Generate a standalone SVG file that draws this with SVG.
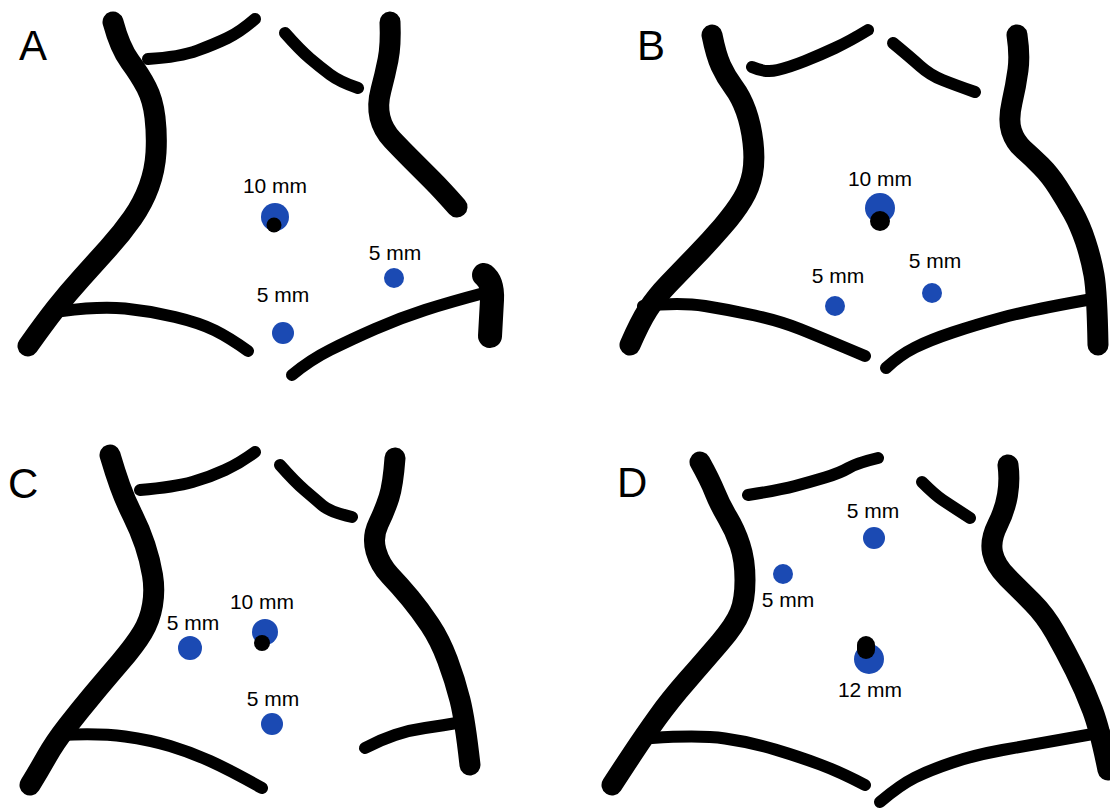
<svg xmlns="http://www.w3.org/2000/svg" width="1110" height="809" viewBox="0 0 1110 809">
  <style>
    .thick { fill: none; stroke: #000; stroke-width: 21; stroke-linecap: round; stroke-linejoin: round; }
    .thin { fill: none; stroke: #000; stroke-width: 12; stroke-linecap: round; stroke-linejoin: round; }
    .port { fill: #1b4ab3; }
    .cam { fill: #000; }
    .lbl { font-family: "Liberation Sans", Arial, sans-serif; font-size: 21px; fill: #000; text-anchor: middle; }
    .pan { font-family: "Liberation Sans", Arial, sans-serif; font-size: 42px; fill: #000; }
  </style>
  <rect width="1110" height="809" fill="#fff"/>

  <!-- Panel A -->
  <g id="panel-a">
    <text class="pan" x="19" y="60">A</text>
    <path class="thick" d="M113,22 Q120,48 130,61.5 Q140,75 146.5,87.5 Q153,100 155,117.5 Q157,135 156,152.5 Q155,170 149,186.5 Q143,203 132.5,218 Q122,233 108.5,248 Q95,263 81.5,278 Q68,293 56.5,307.5 Q45,322 28,346"/>
    <path class="thin" d="M148,59 Q180,57 197.5,50.5 Q215,44 227.5,38 Q240,32 255,19"/>
    <path class="thin" d="M285,33 Q300,50 310,58.5 Q320,67 330,74.5 Q340,82 358,88"/>
    <path class="thick" d="M390,22 Q391,45 388,60 Q385,75 381,90 Q377,105 380,117.5 Q383,130 392.5,140 Q402,150 412,160 Q422,170 432,180 Q442,190 457,207"/>
    <path class="thin" d="M62,311 Q100,306 125,308.5 Q150,311 175,317 Q200,323 215,330.5 Q230,338 248,351"/>
    <path class="thin" d="M292,375 Q310,360 330,350 Q350,340 375,329 Q400,318 425,310 Q450,302 484,293"/>
    <path class="thick" d="M484,275 Q493,282 492,300 L490,336" style="stroke-width:24"/>
    <circle class="port" cx="275" cy="217" r="14"/>
    <circle class="cam" cx="274" cy="225" r="7.5"/>
    <text class="lbl" x="275" y="193">10 mm</text>
    <circle class="port" cx="394" cy="278" r="10"/>
    <text class="lbl" x="395" y="260">5 mm</text>
    <circle class="port" cx="283" cy="333" r="11"/>
    <text class="lbl" x="283" y="302">5 mm</text>
  </g>

  <!-- Panel B -->
  <g id="panel-b">
    <text class="pan" x="637" y="60">B</text>
    <path class="thick" d="M712,35 Q716,55 721,66 Q726,77 733.5,87 Q741,97 746,111 Q751,125 753,142.5 Q755,160 752.5,173.5 Q750,187 742.5,199.5 Q735,212 722.5,226.5 Q710,241 695.5,256 Q681,271 668.5,284 Q656,297 648,309.5 Q640,322 630,345"/>
    <path class="thin" d="M752,67 Q765,73 777.5,70 Q790,67 805,61 Q820,55 835,48 Q850,41 868,30"/>
    <path class="thin" d="M893,43 Q910,57 920,66 Q930,75 942.5,80 Q955,85 975,92"/>
    <path class="thick" d="M1017,35 Q1020,55 1018,70 Q1016,85 1012,102.5 Q1008,120 1011.5,131 Q1015,142 1023.5,149.5 Q1032,157 1041,166 Q1050,175 1058,187.5 Q1066,200 1073,212.5 Q1080,225 1085.5,241.5 Q1091,258 1094,275 Q1097,292 1098,345"/>
    <path class="thin" d="M643,306 Q680,302 705,306 Q730,310 755,315.5 Q780,321 800,329 Q820,337 865,356"/>
    <path class="thin" d="M886,368 Q900,355 915,347.5 Q930,340 952.5,332.5 Q975,325 1002.5,317.5 Q1030,310 1098,298"/>
    <circle class="port" cx="880" cy="208" r="15"/>
    <circle class="cam" cx="880" cy="221" r="10"/>
    <text class="lbl" x="880" y="186">10 mm</text>
    <circle class="port" cx="835" cy="306" r="10"/>
    <text class="lbl" x="838" y="283">5 mm</text>
    <circle class="port" cx="932" cy="293" r="10"/>
    <text class="lbl" x="935" y="268">5 mm</text>
  </g>

  <!-- Panel C -->
  <g id="panel-c">
    <text class="pan" x="8" y="498">C</text>
    <path class="thick" d="M110,455 Q115,472 120,486 Q125,500 132.5,515 Q140,530 145,545 Q150,560 152.5,575 Q155,590 152.5,605 Q150,620 142.5,632.5 Q135,645 120,662.5 Q105,680 92.5,695 Q80,710 67.5,726 Q55,742 46.5,757 Q38,772 30,785"/>
    <path class="thin" d="M140,490 Q175,487 192.5,482 Q210,477 225,470 Q240,463 255,452"/>
    <path class="thin" d="M280,465 Q295,482 305,490.5 Q315,499 322.5,505.5 Q330,512 352,517"/>
    <path class="thick" d="M395,458 Q393,485 389,497.5 Q385,510 378.5,523.5 Q372,537 376,551 Q380,565 390,575.5 Q400,586 410,598 Q420,610 430,625 Q440,640 447.5,660 Q455,680 460,700 Q465,720 470,765"/>
    <path class="thin" d="M60,735 Q100,733 125,736.5 Q150,740 170,746 Q190,752 210,761 Q230,770 262,788"/>
    <path class="thin" d="M365,748 Q380,740 395,735 Q410,730 425,728 Q440,726 468,721"/>
    <circle class="port" cx="265" cy="632" r="13"/>
    <circle class="cam" cx="262" cy="643" r="8"/>
    <text class="lbl" x="262" y="609">10 mm</text>
    <circle class="port" cx="190" cy="648" r="12"/>
    <text class="lbl" x="193" y="630">5 mm</text>
    <circle class="port" cx="272" cy="724" r="11"/>
    <text class="lbl" x="273" y="706">5 mm</text>
  </g>

  <!-- Panel D -->
  <g id="panel-d">
    <text class="pan" x="617" y="497">D</text>
    <path class="thick" d="M700,462 Q710,480 715,492.5 Q720,505 727.5,517.5 Q735,530 740,545 Q745,560 745,580 Q745,600 740,612.5 Q735,625 720,642.5 Q705,660 687.5,680 Q670,700 657.5,717.5 Q645,735 635,750 Q625,765 612,785"/>
    <path class="thin" d="M748,495 Q780,490 795,486 Q810,482 825,477.5 Q840,473 848.5,468 Q857,463 878,458"/>
    <path class="thin" d="M922,482 Q935,495 942.5,500 Q950,505 970,518"/>
    <path class="thick" d="M1008,465 Q1010,480 1007.5,495 Q1005,510 997.5,525 Q990,540 992.5,552.5 Q995,565 1007.5,577.5 Q1020,590 1032.5,602.5 Q1045,615 1055,632.5 Q1065,650 1075,670 Q1085,690 1092.5,710 Q1100,730 1108,770"/>
    <path class="thin" d="M652,738 Q700,735 725,738.5 Q750,742 775,749.5 Q800,757 820,764.5 Q840,772 865,785"/>
    <path class="thin" d="M880,802 Q900,785 915,777.5 Q930,770 952.5,762.5 Q975,755 1002.5,750 Q1030,745 1104,732"/>
    <circle class="port" cx="874" cy="538" r="11"/>
    <text class="lbl" x="873" y="518">5 mm</text>
    <circle class="port" cx="783" cy="574" r="10"/>
    <text class="lbl" x="788" y="607">5 mm</text>
    <circle class="port" cx="869" cy="659" r="15"/>
    <path class="cam" d="M857,645 a9,9 0 0 1 18,0 v5 a9,9 0 0 1 -18,0 Z"/>
    <text class="lbl" x="870" y="697">12 mm</text>
  </g>
</svg>
